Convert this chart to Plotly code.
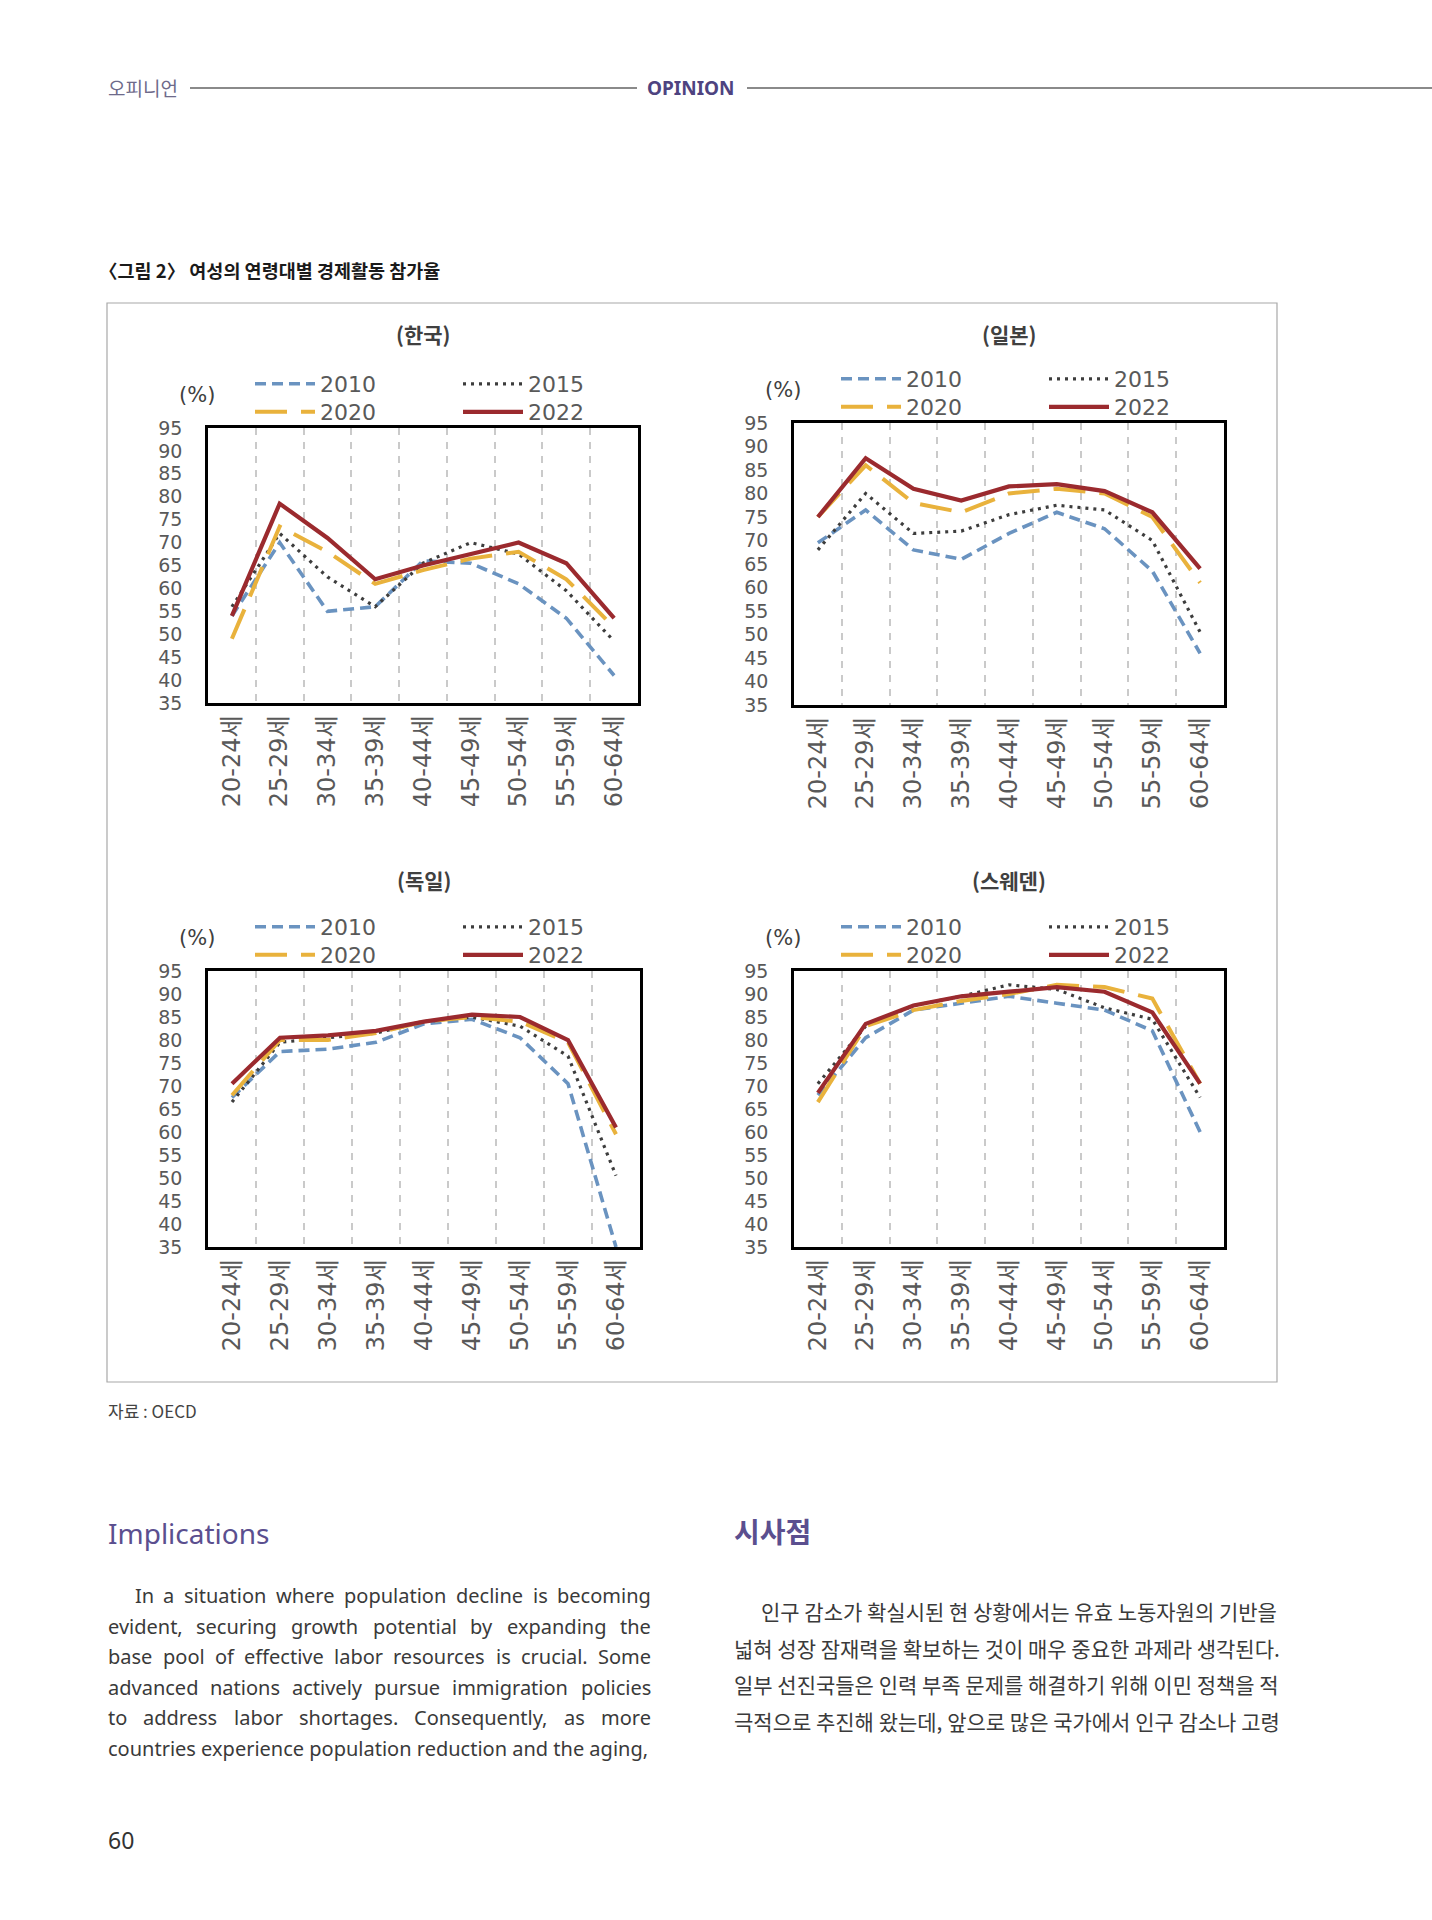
import plotly.graph_objects as go

W, H = 1432, 1920

# ---------------- data ----------------
age_groups = ["20-24세", "25-29세", "30-34세", "35-39세", "40-44세",
              "45-49세", "50-54세", "55-59세", "60-64세"]
years = ["2010", "2015", "2020", "2022"]
y_ticks = [35, 40, 45, 50, 55, 60, 65, 70, 75, 80, 85, 90, 95]

korea_2010 = [54, 70, 55, 56, 66, 65.5, 61, 53.5, 41]
korea_2015 = [56, 72, 62.5, 56, 65.5, 70, 67.5, 59.5, 48.5]
korea_2020 = [49, 73.5, 68, 61, 64, 66.5, 68, 62, 51.5]
korea_2022 = [54, 78.5, 71, 62, 65, 67.5, 70, 65.5, 53.5]

japan_2010 = [69.5, 76.5, 68, 66, 71.5, 76, 72.5, 63.5, 46]
japan_2015 = [68, 80, 71.5, 72, 75.5, 77.5, 76.5, 70, 50.5]
japan_2020 = [75, 86, 78, 76, 80, 81, 80, 75, 61]
japan_2022 = [75, 87.5, 81, 78.5, 81.5, 82, 80.5, 76, 64]

germany_2010 = [67.5, 77.5, 78, 79.5, 83.5, 84.5, 80.5, 70.5, 35]
germany_2015 = [66.5, 79.5, 80.5, 81.5, 84, 85, 83, 76.5, 50.5]
germany_2020 = [68, 80, 80, 81.5, 84, 85, 84, 79.5, 59.5]
germany_2022 = [70.5, 80.5, 81, 82, 84, 85.5, 85, 80, 61]

sweden_2010 = [68, 80.5, 86.5, 88, 89.5, 88, 86.5, 82, 60]
sweden_2015 = [70.5, 83, 87.5, 89.5, 92, 91, 87, 84.5, 67.5]
sweden_2020 = [66.5, 83, 86.5, 88.5, 90, 92, 91.5, 89, 70.5]
sweden_2022 = [68.5, 83.5, 87.5, 89.5, 90.5, 91.5, 90.5, 86, 70.5]

panel_titles = ["(한국)", "(일본)", "(독일)", "(스웨덴)"]
panel_series = [
    [korea_2010, korea_2015, korea_2020, korea_2022],
    [japan_2010, japan_2015, japan_2020, japan_2022],
    [germany_2010, germany_2015, germany_2020, germany_2022],
    [sweden_2010, sweden_2015, sweden_2020, sweden_2022],
]

en_lines = [
    "In a situation where population decline is becoming",
    "evident, securing growth potential by expanding the",
    "base pool of effective labor resources is crucial. Some",
    "advanced nations actively pursue immigration policies",
    "to address labor shortages. Consequently, as more",
    "countries experience population reduction and the aging,",
]
kr_lines = [
    "인구 감소가 확실시된 현 상황에서는 유효 노동자원의 기반을",
    "넓혀 성장 잠재력을 확보하는 것이 매우 중요한 과제라 생각된다.",
    "일부 선진국들은 인력 부족 문제를 해결하기 위해 이민 정책을 적",
    "극적으로 추진해 왔는데, 앞으로 많은 국가에서 인구 감소나 고령",
]

# ---------------- styles / layout ----------------
year_styles = [
    dict(color="#6a93c0", width=3.6, dash="11px,6px"),
    dict(color="#3d3d3d", width=3.2, dash="3px,5px"),
    dict(color="#e9b23c", width=4.0, dash="32px,14px"),
    dict(color="#9b2a2e", width=4.2, dash="solid"),
]

# plot boxes in page pixels: (left, right, top, bottom)
boxes = [
    (208, 638, 428, 703),
    (794, 1224, 423, 705),
    (208, 640, 971, 1247),
    (794, 1224, 971, 1247),
]
title_rows = [334, 334, 880, 880]

def px(x):
    return x / W

def py(y):
    return 1 - y / H

AX_FONT = "'DejaVu Sans', 'Noto Sans CJK KR', sans-serif"
KR_FONT = "'Noto Sans CJK KR', 'Noto Sans', sans-serif"
EN_FONT = "'Noto Sans', sans-serif"
GRAY = "#595959"

fig = go.Figure()
layout = dict(
    width=W, height=H,
    margin=dict(l=0, r=0, t=0, b=0, pad=0, autoexpand=False),
    paper_bgcolor="white", plot_bgcolor="white",
    showlegend=True,
)

annotations = []
shapes = []

for p, (series, (l, r, t, b)) in enumerate(zip(panel_series, boxes)):
    sfx = "" if p == 0 else str(p + 1)
    xa, ya = "x" + sfx, "y" + sfx
    leg_row1 = "legend" if p == 0 else f"legend{2 * p + 1}"
    leg_row2 = f"legend{2 * p + 2}"
    for k, (yr, vals) in enumerate(zip(years, series)):
        fig.add_trace(go.Scatter(
            x=age_groups, y=vals, mode="lines", name=yr,
            line=dict(**year_styles[k]),
            xaxis=xa, yaxis=ya,
            legend=leg_row1 if k < 2 else leg_row2,
            hoverinfo="x+y+name",
        ))
    layout["xaxis" + sfx] = dict(
        domain=[px(l), px(r)], anchor=ya, type="category",
        categoryorder="array", categoryarray=age_groups,
        range=[-0.5, 8.5], tickson="boundaries",
        showgrid=True, gridcolor="#cacaca", gridwidth=2, griddash="7px,7px",
        showline=True, linecolor="black", linewidth=2.5, mirror=True,
        ticks="", tickangle=-90, ticklabelstandoff=0,
        tickfont=dict(family=AX_FONT, size=24, color=GRAY),
        zeroline=False, fixedrange=True, automargin=False,
    )
    layout["yaxis" + sfx] = dict(
        domain=[py(b), py(t)], anchor=xa,
        range=[35, 95], tickmode="array", tickvals=y_ticks,
        showgrid=False, zeroline=False,
        showline=True, linecolor="black", linewidth=2.5, mirror=True,
        ticks="", ticklabelstandoff=19,
        tickfont=dict(family=AX_FONT, size=19, color=GRAY),
        fixedrange=True, automargin=False,
    )
    # legends: two rows of two entries
    for row, leg in enumerate([leg_row1, leg_row2]):
        layout[leg] = dict(
            orientation="h", x=px(l + 42), xanchor="left",
            y=py(t - 44 + row * 28), yanchor="middle",
            bgcolor="rgba(0,0,0,0)", borderwidth=0,
            itemwidth=60, entrywidth=133, entrywidthmode="pixels",
            font=dict(family=AX_FONT, size=22, color=GRAY),
            traceorder="normal", itemclick=False, itemdoubleclick=False,
        )
    # panel title
    annotations.append(dict(
        text=f"<b>{panel_titles[p]}</b>", x=px((l + r) / 2), y=py(title_rows[p]),
        xref="paper", yref="paper", showarrow=False,
        xanchor="center", yanchor="middle",
        font=dict(family=KR_FONT, size=21, color="#404040"),
    ))
    # unit label
    annotations.append(dict(
        text="(%)", x=px(l + 9), y=py(t - 33),
        xref="paper", yref="paper", showarrow=False,
        xanchor="right", yanchor="middle",
        font=dict(family=AX_FONT, size=21, color="#404040"),
    ))

# outer frame around the figure
shapes.append(dict(type="rect", xref="paper", yref="paper",
                   x0=px(107), x1=px(1277), y0=py(1382), y1=py(303),
                   line=dict(color="#a8a8a8", width=1.2)))

# header rules
shapes.append(dict(type="line", xref="paper", yref="paper",
                   x0=px(190), x1=px(637), y0=py(88), y1=py(88),
                   line=dict(color="#8a8a8a", width=2)))
shapes.append(dict(type="line", xref="paper", yref="paper",
                   x0=px(747), x1=px(1432), y0=py(88), y1=py(88),
                   line=dict(color="#8a8a8a", width=2)))

def text(t, x, y, size, color, family=KR_FONT, anchor="left"):
    annotations.append(dict(
        text=t, x=px(x), y=py(y), xref="paper", yref="paper",
        showarrow=False, xanchor=anchor, yanchor="middle",
        font=dict(family=family, size=size, color=color),
    ))

text("오피니언", 106, 88, 19, "#6e6a8a")
text("<b>OPINION</b>", 691, 88, 19, "#4e4380", family=EN_FONT, anchor="center")
text("<b>〈그림 2〉 여성의 연령대별 경제활동 참가율</b>", 97, 270, 18.5, "#1a1a1a")
text("자료 : OECD", 106, 1410, 17, "#444444")

text("Implications", 106, 1533, 28, "#5b4f8f", family=EN_FONT)
text("<b>시사점</b>", 732, 1531, 28, "#5b4f8f")

# approximate Noto Sans advance widths (em) used to justify the English lines
NW = {" ": 0.26, ",": 0.25, ".": 0.27, "I": 0.32, "S": 0.54, "C": 0.62,
      "a": 0.56, "b": 0.615, "c": 0.48, "d": 0.615, "e": 0.564, "f": 0.344,
      "g": 0.615, "h": 0.618, "i": 0.258, "j": 0.258, "k": 0.534, "l": 0.258,
      "m": 0.935, "n": 0.618, "o": 0.605, "p": 0.615, "q": 0.615, "r": 0.413,
      "s": 0.479, "t": 0.361, "u": 0.618, "v": 0.508, "w": 0.786, "x": 0.529,
      "y": 0.51, "z": 0.47}

def word_w(wd, size):
    return sum(NW.get(ch, 0.56) for ch in wd) * size

EN_SIZE = 20
EN_RIGHT = 649
en_y = [1595, 1626, 1656, 1687, 1717, 1748]
for i, (line, yy) in enumerate(zip(en_lines, en_y)):
    left = 133 if i == 0 else 106
    if i == len(en_lines) - 1:
        text(line, left, yy, EN_SIZE, "#3a3a3a", family=EN_FONT)
        continue
    words = line.split(" ")
    widths = [word_w(wd, EN_SIZE) for wd in words]
    gap = (EN_RIGHT - left - sum(widths)) / (len(words) - 1)
    xcur = left
    for wd, wdw in zip(words, widths):
        text(wd, xcur, yy, EN_SIZE, "#3a3a3a", family=EN_FONT)
        xcur += wdw + gap

kr_y = [1611, 1648, 1684, 1721]
for i, (line, yy) in enumerate(zip(kr_lines, kr_y)):
    text(line, 759 if i == 0 else 732, yy, 21, "#3a3a3a")

text("60", 106, 1840, 23, "#333333", family=EN_FONT)

layout["annotations"] = annotations
layout["shapes"] = shapes
fig.update_layout(**layout)

fig.write_html("out.html", config={"displayModeBar": False},
               post_script="document.body.style.margin='0';")
